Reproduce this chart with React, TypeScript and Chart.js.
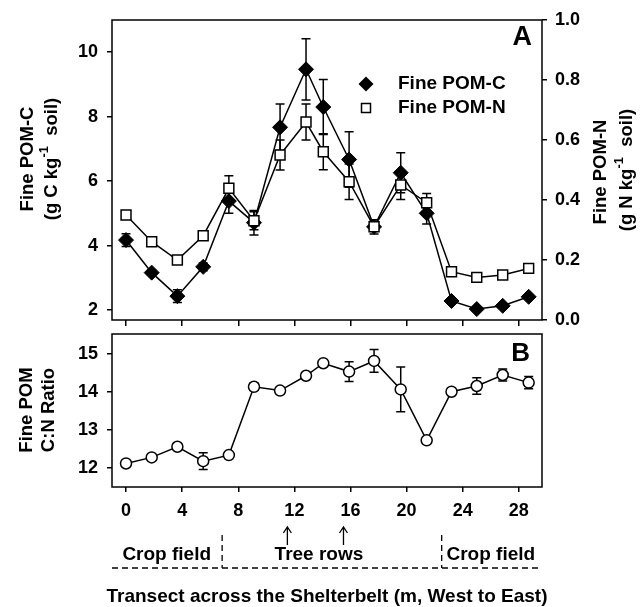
import React, { useEffect, useRef } from 'react';
import { Chart, registerables } from 'chart.js';

Chart.register(...registerables);

// ---------- data ----------
const distances = [0, 1.83, 3.66, 5.5, 7.33, 9.12, 10.98, 12.83, 14.06, 15.9, 17.68, 19.58, 21.43, 23.2, 25.0, 26.85, 28.7];
const pomC = [4.17, 3.16, 2.43, 3.34, 5.38, 4.71, 7.67, 9.47, 8.3, 6.67, 4.58, 6.26, 5.0, 2.28, 2.03, 2.13, 2.41];
const pomCErr = [0.2, 0.08, 0.2, 0.12, 0.38, 0.38, 0.72, 0.95, 0.85, 0.86, 0.22, 0.62, 0.33, 0.05, 0.05, 0.06, 0.06];
const pomN = [0.35, 0.261, 0.2, 0.281, 0.439, 0.331, 0.55, 0.66, 0.561, 0.461, 0.311, 0.45, 0.391, 0.161, 0.142, 0.15, 0.172];
const pomNErr = [0.012, 0.005, 0.012, 0.01, 0.042, 0.03, 0.05, 0.06, 0.06, 0.059, 0.01, 0.048, 0.031, 0.005, 0.005, 0.005, 0.005];
const cnRatio = [12.12, 12.28, 12.56, 12.18, 12.34, 14.14, 14.04, 14.43, 14.76, 14.54, 14.82, 14.07, 12.73, 14.01, 14.16, 14.45, 14.25];
const cnRatioErr = [0.06, 0.05, 0.04, 0.22, 0.03, 0.09, 0.08, 0.08, 0.06, 0.26, 0.3, 0.59, 0, 0.03, 0.22, 0.16, 0.16];

const xTicks = [0, 4, 8, 12, 16, 20, 24, 28];
const cTicks = [2, 4, 6, 8, 10];
const nTicks = [0, 0.2, 0.4, 0.6, 0.8, 1.0];
const ratioTicks = [12, 13, 14, 15];

const treeRowArrows = [11.5, 15.5];
const zoneBounds = [6.85, 22.5];
const zoneLabels = ['Crop field', 'Tree rows', 'Crop field'];
const zoneLabelCenters = [2.9, 13.75, 26.0];

const seriesLabels = ['Fine POM-C', 'Fine POM-N'];

// ---------- helpers ----------
const FONT = '"Liberation Sans", Arial, Helvetica, sans-serif';
const W = 644;
const H = 607;

type Part = { t: string; sup?: boolean };

function drawRotated(ctx: CanvasRenderingContext2D, cx: number, cy: number, parts: Part[], size: number) {
  ctx.save();
  ctx.translate(cx, cy);
  ctx.rotate(-Math.PI / 2);
  const mainFont = `bold ${size}px ${FONT}`;
  const supFont = `bold ${Math.round(size * 0.72)}px ${FONT}`;
  let total = 0;
  const widths = parts.map((p) => {
    ctx.font = p.sup ? supFont : mainFont;
    const w = ctx.measureText(p.t).width;
    total += w;
    return w;
  });
  let x = -total / 2;
  ctx.textBaseline = 'middle';
  ctx.textAlign = 'left';
  ctx.fillStyle = '#000';
  parts.forEach((p, i) => {
    ctx.font = p.sup ? supFont : mainFont;
    ctx.fillText(p.t, x, p.sup ? -size * 0.42 : 0);
    x += widths[i];
  });
  ctx.restore();
}

const errorBarPlugin = {
  id: 'errorBars',
  beforeDatasetsDraw(chart: any) {
    const ctx = chart.ctx as CanvasRenderingContext2D;
    ctx.save();
    ctx.strokeStyle = '#000';
    ctx.lineWidth = 1.5;
    chart.data.datasets.forEach((ds: any) => {
      const errs: number[] | undefined = ds.errors;
      if (!errs) return;
      const xs = chart.scales.x;
      const ys = chart.scales[ds.yAxisID];
      ds.data.forEach((pt: any, i: number) => {
        const e = errs[i];
        if (!e) return;
        const px = xs.getPixelForValue(pt.x);
        const y1 = ys.getPixelForValue(pt.y - e);
        const y2 = ys.getPixelForValue(pt.y + e);
        const cap = 4.5;
        ctx.beginPath();
        ctx.moveTo(px, y1);
        ctx.lineTo(px, y2);
        ctx.moveTo(px - cap, y1);
        ctx.lineTo(px + cap, y1);
        ctx.moveTo(px - cap, y2);
        ctx.lineTo(px + cap, y2);
        ctx.stroke();
      });
    });
    ctx.restore();
  },
};

const tickFont = { family: FONT, size: 18, weight: 'bold' as const };

function setTicks(values: number[]) {
  return (scale: any) => {
    scale.ticks = values.map((v) => ({ value: v }));
  };
}

const panelAPlugin = {
  id: 'panelA',
  afterDraw(chart: any) {
    const ctx = chart.ctx as CanvasRenderingContext2D;
    const a = chart.chartArea;
    ctx.save();
    ctx.strokeStyle = '#000';
    ctx.lineWidth = 1.5;
    ctx.strokeRect(a.left, a.top, a.right - a.left, a.bottom - a.top);

    ctx.fillStyle = '#000';
    ctx.font = `bold 27px ${FONT}`;
    ctx.textAlign = 'right';
    ctx.textBaseline = 'middle';
    ctx.fillText('A', 532, 38);

    // legend
    const lx = 366;
    const ly = [84, 108];
    ctx.lineWidth = 1.2;
    ctx.beginPath();
    ctx.moveTo(lx, ly[0] - 7.5);
    ctx.lineTo(lx + 7.5, ly[0]);
    ctx.lineTo(lx, ly[0] + 7.5);
    ctx.lineTo(lx - 7.5, ly[0]);
    ctx.closePath();
    ctx.fill();
    ctx.fillStyle = '#fff';
    ctx.fillRect(lx - 4.5, ly[1] - 4.5, 9, 9);
    ctx.lineWidth = 1.5;
    ctx.strokeRect(lx - 4.5, ly[1] - 4.5, 9, 9);
    ctx.fillStyle = '#000';
    ctx.font = `bold 19px ${FONT}`;
    ctx.textAlign = 'left';
    ctx.fillText(seriesLabels[0], 398, ly[0]);
    ctx.fillText(seriesLabels[1], 398, ly[1]);
    ctx.restore();

    drawRotated(ctx, 28, 159, [{ t: 'Fine POM-C' }], 18.5);
    drawRotated(ctx, 52, 159, [{ t: '(g C kg' }, { t: '-1', sup: true }, { t: '  soil)' }], 18.5);
    drawRotated(ctx, 601, 172, [{ t: 'Fine POM-N' }], 18.5);
    drawRotated(ctx, 627, 170, [{ t: '(g N kg' }, { t: '-1', sup: true }, { t: '  soil)' }], 18.5);
  },
};

const panelBPlugin = {
  id: 'panelB',
  afterDraw(chart: any) {
    const ctx = chart.ctx as CanvasRenderingContext2D;
    const a = chart.chartArea;
    const xs = chart.scales.x;
    ctx.save();
    ctx.strokeStyle = '#000';
    ctx.fillStyle = '#000';
    ctx.lineWidth = 1.5;
    ctx.strokeRect(a.left, a.top, a.right - a.left, a.bottom - a.top);

    ctx.font = `bold 26px ${FONT}`;
    ctx.textAlign = 'right';
    ctx.textBaseline = 'middle';
    ctx.fillText('B', 530, 354);

    // arrows
    ctx.lineWidth = 1.3;
    treeRowArrows.forEach((v) => {
      const x = xs.getPixelForValue(v);
      ctx.beginPath();
      ctx.moveTo(x, 545);
      ctx.lineTo(x, 527);
      ctx.moveTo(x - 4, 533);
      ctx.lineTo(x, 527);
      ctx.lineTo(x + 4, 533);
      ctx.stroke();
    });

    // dashed zone lines
    ctx.lineWidth = 1.3;
    ctx.setLineDash([6, 4]);
    ctx.beginPath();
    ctx.moveTo(a.left, 568);
    ctx.lineTo(538, 568);
    zoneBounds.forEach((v) => {
      const x = xs.getPixelForValue(v);
      ctx.moveTo(x, 535);
      ctx.lineTo(x, 568);
    });
    ctx.stroke();
    ctx.setLineDash([]);

    ctx.font = `bold 19px ${FONT}`;
    ctx.textAlign = 'center';
    ctx.textBaseline = 'middle';
    zoneLabels.forEach((t, i) => {
      ctx.fillText(t, xs.getPixelForValue(zoneLabelCenters[i]), 555);
    });

    ctx.fillText('Transect across the Shelterbelt (m, West to East)', 327, 597);
    ctx.restore();

    drawRotated(ctx, 27, 410, [{ t: 'Fine POM' }], 18.5);
    drawRotated(ctx, 49, 410, [{ t: 'C:N Ratio' }], 18.5);
  },
};

function gridOpts(len: number) {
  return { drawOnChartArea: false, drawTicks: true, tickLength: len, color: '#000', lineWidth: 1.5 };
}

export default function App() {
  const refA = useRef<HTMLCanvasElement | null>(null);
  const refB = useRef<HTMLCanvasElement | null>(null);

  useEffect(() => {
    if (!refA.current || !refB.current) return;

    const chartA = new Chart(refA.current, {
      type: 'line',
      data: {
        datasets: [
          {
            label: seriesLabels[0],
            data: distances.map((x, i) => ({ x, y: pomC[i] })),
            yAxisID: 'yC',
            borderColor: '#000',
            borderWidth: 1.5,
            pointStyle: 'rectRot',
            pointRadius: 7.5,
            pointBackgroundColor: '#000',
            pointBorderColor: '#000',
            pointBorderWidth: 1,
            tension: 0,
            order: 1,
            errors: pomCErr,
          } as any,
          {
            label: seriesLabels[1],
            data: distances.map((x, i) => ({ x, y: pomN[i] })),
            yAxisID: 'yN',
            borderColor: '#000',
            borderWidth: 1.5,
            pointStyle: 'rect',
            pointRadius: 7,
            pointBackgroundColor: '#fff',
            pointBorderColor: '#000',
            pointBorderWidth: 1.5,
            tension: 0,
            order: 0,
            errors: pomNErr,
          } as any,
        ],
      },
      options: {
        animation: false,
        responsive: false,
        events: [],
        layout: { padding: { left: 0, right: 0, top: 20, bottom: H - 320 - 6 } },
        plugins: { legend: { display: false }, tooltip: { enabled: false } },
        scales: {
          x: {
            type: 'linear',
            min: -1,
            max: 29.65,
            afterBuildTicks: setTicks(xTicks),
            afterFit: (s: any) => { s.height = 6; },
            ticks: { display: false },
            grid: gridOpts(6),
            border: { display: false },
          },
          yC: {
            type: 'linear',
            position: 'left',
            min: 1.69,
            max: 11,
            afterBuildTicks: setTicks(cTicks),
            afterFit: (s: any) => { s.width = 112; },
            ticks: { font: tickFont, color: '#000', padding: 9, callback: (v: any) => String(v) },
            grid: gridOpts(5),
            border: { display: false },
          },
          yN: {
            type: 'linear',
            position: 'right',
            min: 0,
            max: 1,
            afterBuildTicks: setTicks(nTicks),
            afterFit: (s: any) => { s.width = W - 542; },
            ticks: { font: tickFont, color: '#000', padding: 8, callback: (v: any) => Number(v).toFixed(1) },
            grid: gridOpts(5),
            border: { display: false },
          },
        },
      } as any,
      plugins: [errorBarPlugin, panelAPlugin],
    });

    const chartB = new Chart(refB.current, {
      type: 'line',
      data: {
        datasets: [
          {
            label: 'Fine POM C:N Ratio',
            data: distances.map((x, i) => ({ x, y: cnRatio[i] })),
            yAxisID: 'y',
            borderColor: '#000',
            borderWidth: 1.5,
            pointStyle: 'circle',
            pointRadius: 5.5,
            pointBackgroundColor: '#fff',
            pointBorderColor: '#000',
            pointBorderWidth: 1.5,
            tension: 0,
            errors: cnRatioErr,
          } as any,
        ],
      },
      options: {
        animation: false,
        responsive: false,
        events: [],
        layout: { padding: { left: 0, right: W - 542, top: 334, bottom: 0 } },
        plugins: { legend: { display: false }, tooltip: { enabled: false } },
        scales: {
          x: {
            type: 'linear',
            min: -1,
            max: 29.65,
            afterBuildTicks: setTicks(xTicks),
            afterFit: (s: any) => { s.height = H - 487; },
            ticks: { font: tickFont, color: '#000', padding: 8, autoSkip: false, maxRotation: 0, callback: (v: any) => String(v) },
            grid: gridOpts(5),
            border: { display: false },
          },
          y: {
            type: 'linear',
            position: 'left',
            min: 11.5,
            max: 15.53,
            afterBuildTicks: setTicks(ratioTicks),
            afterFit: (s: any) => { s.width = 112; },
            ticks: { font: tickFont, color: '#000', padding: 9, callback: (v: any) => String(v) },
            grid: gridOpts(5),
            border: { display: false },
          },
        },
      } as any,
      plugins: [errorBarPlugin, panelBPlugin],
    });

    return () => {
      chartA.destroy();
      chartB.destroy();
    };
  }, []);

  const canvasStyle: React.CSSProperties = { position: 'absolute', left: 0, top: 0, width: W, height: H };

  return (
    <div style={{ position: 'fixed', left: 0, top: 0, width: W, height: H, background: '#fff' }}>
      <canvas ref={refA} width={W} height={H} style={canvasStyle} />
      <canvas ref={refB} width={W} height={H} style={canvasStyle} />
    </div>
  );
}
